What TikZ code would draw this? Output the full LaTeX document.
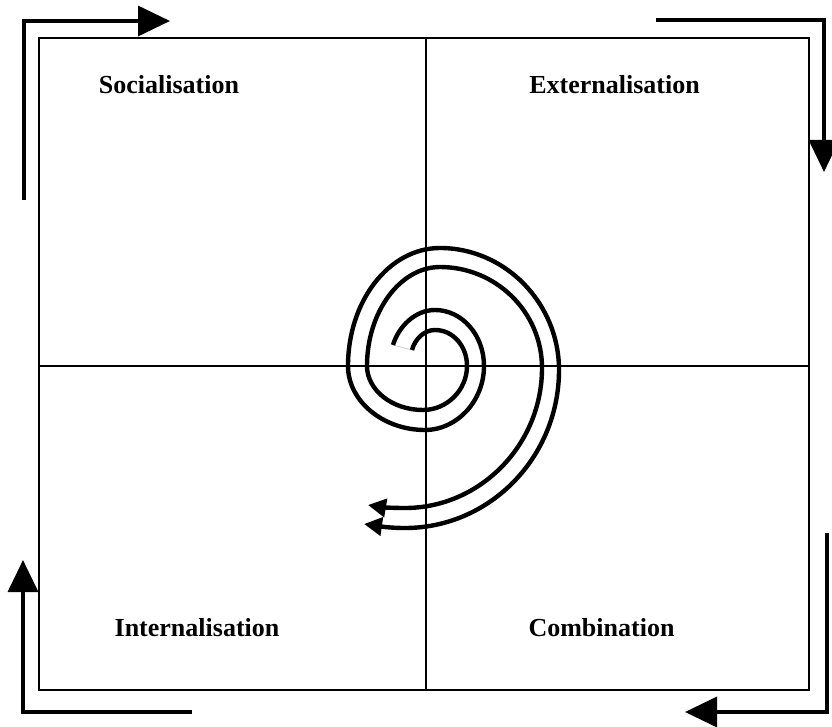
\documentclass[tikz,border=0pt]{standalone}
\usepackage{fontspec}
\setmainfont{Liberation Serif}
\usetikzlibrary{arrows.meta}
\begin{document}
\begin{tikzpicture}[x=1pt,y=-1pt,
  frameline/.style={line width=1.4pt},
  cornerarrow/.style={line width=3.4pt, miter limit=10, -{Triangle[length=32pt,width=30pt]}},
  strand/.style={line width=4.4pt, -{Triangle[length=18pt,width=18pt]}},
  label/.style={font=\bfseries\fontsize{26}{28}\selectfont, inner sep=0pt}]
\useasboundingbox (0,0) rectangle (832,727);
% frame
\coordinate (tl) at (39,38);
\coordinate (br) at (809,690);
\coordinate (topmid) at (426,38);
\coordinate (botmid) at (426,690);
\coordinate (leftmid) at (39,366);
\coordinate (rightmid) at (809,366);
\draw[frameline] (tl) rectangle (br);
\draw[frameline] (topmid) -- (botmid);
\draw[frameline] (leftmid) -- (rightmid);
% labels
\node[label] (soc) at (169,85) {Socialisation};
\node[label] (ext) at (614.5,85) {Externalisation};
\node[label] (int) at (197,628) {Internalisation};
\node[label] (com) at (601.5,628) {Combination};
% corner arrows
\coordinate (a1s) at (24,200); \coordinate (a1c) at (24,21); \coordinate (a1e) at (170,21);
\coordinate (a2s) at (656,20); \coordinate (a2c) at (824,20); \coordinate (a2e) at (824,172);
\coordinate (a3s) at (827,533); \coordinate (a3c) at (827,712); \coordinate (a3e) at (685,712);
\coordinate (a4s) at (192,712); \coordinate (a4c) at (23,712); \coordinate (a4e) at (23,560);
\draw[cornerarrow] (a1s) -- (a1c) -- (a1e);
\draw[cornerarrow] (a2s) -- (a2c) -- (a2e);
\draw[cornerarrow] (a3s) -- (a3c) -- (a3e);
\draw[cornerarrow] (a4s) -- (a4c) -- (a4e);
% spiral (double strand)
\coordinate (sA) at (393,345);
\coordinate (sB) at (412,350);
\coordinate (tA) at (364,524);
\coordinate (tB) at (368,505);
\draw[gray!40, line width=0.8pt] (sA) -- (sB);
\draw[strand] (sA)
  .. controls (398,328) and (414,310) .. (435,310)
  .. controls (462,310) and (484,335) .. (484,366)
  .. controls (484,401) and (457,430) .. (425,430)
  .. controls (383,430) and (348,401) .. (348,366)
  .. controls (348,301) and (389,248) .. (440,248)
  .. controls (505,248) and (559,303) .. (559,370)
  .. controls (559,457) and (490,528) .. (405,528)
  .. controls (388,528) and (378,526) .. (tA);
\draw[strand] (sB)
  .. controls (415,339) and (424,330) .. (435,330)
  .. controls (453,330) and (467,346) .. (467,366)
  .. controls (467,390) and (447,410) .. (423,410)
  .. controls (392,410) and (367,390) .. (367,366)
  .. controls (367,312) and (400,267) .. (440,267)
  .. controls (496,267) and (542,312) .. (542,368)
  .. controls (542,445) and (480,508) .. (405,508)
  .. controls (390,508) and (380,507) .. (tB);
\end{tikzpicture}
\end{document}
